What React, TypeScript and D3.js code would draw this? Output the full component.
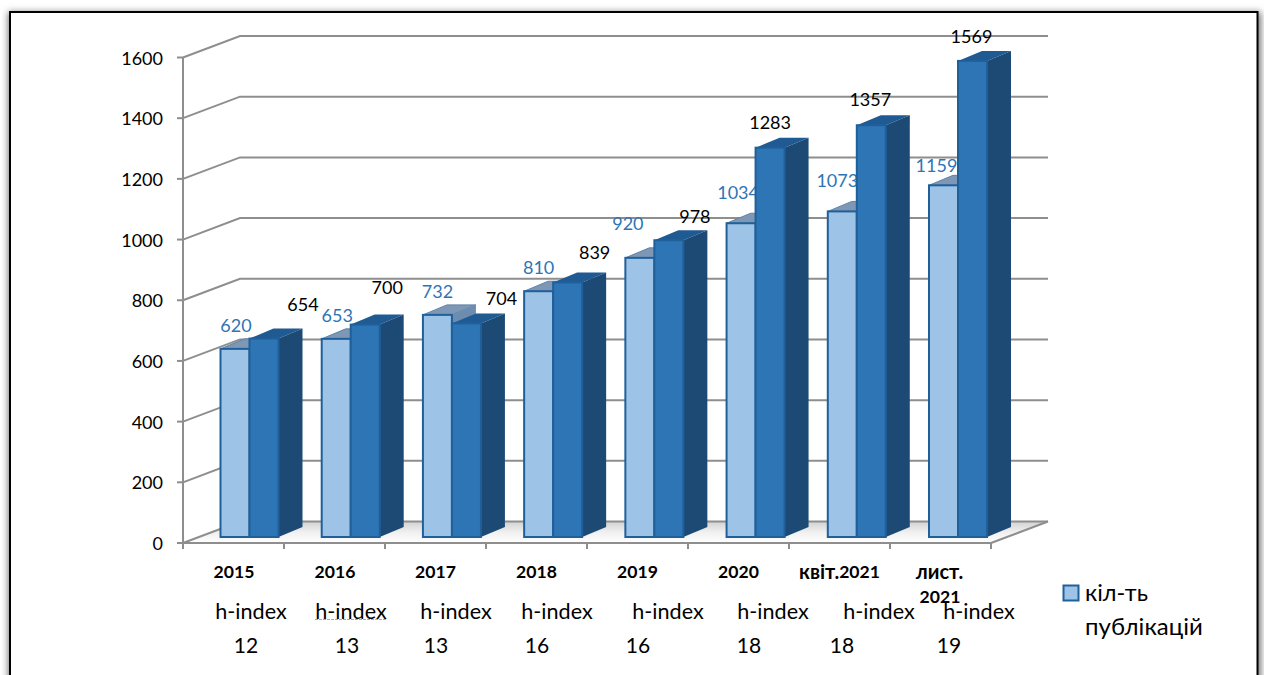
import React from "react";
import * as d3 from "d3";

const publications = [620, 653, 732, 810, 920, 1034, 1073, 1159];
const secondSeries = [654, 700, 704, 839, 978, 1283, 1357, 1569];
const yTicks = [0, 200, 400, 600, 800, 1000, 1200, 1400, 1600];
const years = ["2015", "2016", "2017", "2018", "2019", "2020", "квіт.2021", "лист."];
const hValues = ["12", "13", "13", "16", "16", "18", "18", "19"];
// label placement nudges
const pubNudge: [number, number][] = [[1, -24], [1, -24], [0, -24], [0, -24], [-12, -35], [-3, -31], [-5, -31], [-7, -20]];
const secNudge: [number, number][] = [[39, -35], [22, -38], [35, -25], [27, -30], [26, -24], [0, -26], [-1, -26], [-1, -25]];
const yearNudge = [0.5, 0.5, 0, 0, 0, 0, 0, -1];
const hTextX = [251, 351, 456, 557, 668, 773, 879, 979];
const hNumX = [246, 347, 436, 537, 638, 749, 842, 949];

const FONT = "Lato, 'Noto Sans', sans-serif";
const AXIS = "#8e8e8e";
const EDGE = "#20609a";

const D = { x: 57, y: -21.5 };
const BAR = { dx: 24, dy: -10 };

export default function App() {
  const y = d3.scaleLinear().domain([0, 1600]).range([543, 57.5]);
  const yBar = d3.scaleLinear().domain([0, 1600]).range([537, 51.5]);
  const x = d3.scaleBand<number>().domain(d3.range(8)).range([183, 991]);
  const barX = d3.scaleLinear().domain([0, 7]).range([220.5, 929]);
  const barW = 29;

  const poly = (pts: [number, number][]) => pts.map((p) => p.join(",")).join(" ");

  return (
    <svg width={1264} height={675} style={{ position: "absolute", left: 0, top: 0, display: "block" }} fontFamily={FONT}>
      <defs>
        <filter id="sh" x="-5%" y="-5%" width="110%" height="110%">
          <feGaussianBlur stdDeviation="3.5" />
        </filter>
        <linearGradient id="floor" x1="0" x2="0" y1="0" y2="1">
          <stop offset="0" stopColor="#d2d2d2" />
          <stop offset="0.5" stopColor="#f0f0f0" />
          <stop offset="1" stopColor="#ffffff" />
        </linearGradient>
      </defs>
      <rect width={1264} height={675} fill="#fff" />
      <rect x={8} y={12} width={1253} height={700} fill="#777" filter="url(#sh)" />
      <rect x={10} y={12} width={1247.5} height={700} fill="#fff" stroke="#000" strokeWidth={2} />

      {/* floor */}
      <polygon
        points={poly([[183, y(0)], [991, y(0)], [991 + D.x, y(0) + D.y], [183 + D.x, y(0) + D.y]])}
        fill="url(#floor)"
      />
      {/* walls */}
      {yTicks.map((t) => (
        <polyline
          key={t}
          points={poly([[183, y(t)], [183 + D.x, y(t) + D.y], [991 + D.x, y(t) + D.y]])}
          fill="none"
          stroke={AXIS}
          strokeWidth={2}
        />
      ))}
      <polyline points={poly([[991, y(0)], [991 + D.x, y(0) + D.y]])} fill="none" stroke={AXIS} strokeWidth={2} />
      <line x1={183} x2={183} y1={y(1600)} y2={y(0)} stroke={AXIS} strokeWidth={2} />
      <line x1={183} x2={991} y1={y(0)} y2={y(0)} stroke={AXIS} strokeWidth={2} />
      {yTicks.map((t) => (
        <line key={t} x1={177} x2={183} y1={y(t)} y2={y(t)} stroke={AXIS} strokeWidth={2} />
      ))}
      {d3.range(9).map((i) => (
        <line key={i} x1={183 + i * x.step()} x2={183 + i * x.step()} y1={y(0)} y2={y(0) + 6} stroke={AXIS} strokeWidth={2} />
      ))}
      {yTicks.map((t) => (
        <text key={t} x={163} y={y(t)} textAnchor="end" dominantBaseline="central" fontSize={18} fill="#000">
          {t}
        </text>
      ))}

      {/* first-series labels sit behind the bars */}
      {publications.map((v, i) => (
        <text
          key={i}
          x={barX(i) + barW / 2 + pubNudge[i][0]}
          y={yBar(v) + pubNudge[i][1]}
          textAnchor="middle"
          dominantBaseline="central"
          fontSize={18}
          fill="#2e75b6"
        >
          {v}
        </text>
      ))}

      {/* bars */}
      {publications.map((v, i) => {
        const x0 = barX(i);
        const x1 = x0 + barW;
        const x2 = x1 + barW;
        const b = yBar(0);
        const t1 = yBar(v);
        const t2 = yBar(secondSeries[i]);
        return (
          <g key={i}>
            <polygon points={poly([[x0, t1], [x1, t1], [x1 + BAR.dx, t1 + BAR.dy], [x0 + BAR.dx, t1 + BAR.dy]])} fill="#7d97b5" stroke="#5f83a8" strokeWidth={1} />
            <polygon points={poly([[x1, t1], [x1 + BAR.dx, t1 + BAR.dy], [x1 + BAR.dx, b + BAR.dy], [x1, b]])} fill="#6d8db0" />
            <rect x={x0} y={t1} width={barW} height={b - t1} fill="#9dc3e6" stroke={EDGE} strokeWidth={2} />
            <polygon points={poly([[x1, t2], [x2, t2], [x2 + BAR.dx, t2 + BAR.dy], [x1 + BAR.dx, t2 + BAR.dy]])} fill="#1f5a93" />
            <polygon points={poly([[x2, t2], [x2 + BAR.dx, t2 + BAR.dy], [x2 + BAR.dx, b + BAR.dy], [x2, b]])} fill="#1d4a75" />
            <rect x={x1} y={t2} width={barW} height={b - t2} fill="#2e75b6" stroke={EDGE} strokeWidth={2} />
          </g>
        );
      })}

      {secondSeries.map((v, i) => (
        <text
          key={i}
          x={barX(i) + barW * 1.5 + secNudge[i][0]}
          y={yBar(v) + secNudge[i][1]}
          textAnchor="middle"
          dominantBaseline="central"
          fontSize={18}
          fill="#000"
        >
          {v}
        </text>
      ))}

      {/* category labels */}
      {years.map((c, i) => {
        const m = c.match(/^[^\d]+/);
        const prefix = m ? m[0] : "";
        const rest = c.slice(prefix.length);
        return (
          <text
            key={c}
            x={(x(i) as number) + x.bandwidth() / 2 + yearNudge[i]}
            y={571}
            textAnchor="middle"
            dominantBaseline="central"
            fontSize={17.6}
            fontWeight={700}
          >
            {prefix && <tspan fontSize={20}>{prefix}</tspan>}
            {rest}
          </text>
        );
      })}
      <text x={940} y={596} textAnchor="middle" dominantBaseline="central" fontSize={17.6} fontWeight={700}>2021</text>

      {hTextX.map((tx, i) => (
        <text key={i} x={tx} y={611} textAnchor="middle" dominantBaseline="central" fontSize={21.6}>h-index</text>
      ))}
      <line x1={315} x2={387} y1={619.5} y2={619.5} stroke="#f08a8a" strokeWidth={1} strokeDasharray="3 1" />
      {hValues.map((v, i) => (
        <text key={i} x={hNumX[i]} y={644} textAnchor="middle" dominantBaseline="central" fontSize={21}>{v}</text>
      ))}

      {/* legend */}
      <rect x={1063.5} y={585.5} width={15} height={15} fill="#9dc3e6" stroke={EDGE} strokeWidth={2} />
      <text x={1085} y={592} dominantBaseline="central" fontSize={23.5}>кіл-ть</text>
      <text x={1085} y={625} dominantBaseline="central" fontSize={24}>публікацій</text>
    </svg>
  );
}
